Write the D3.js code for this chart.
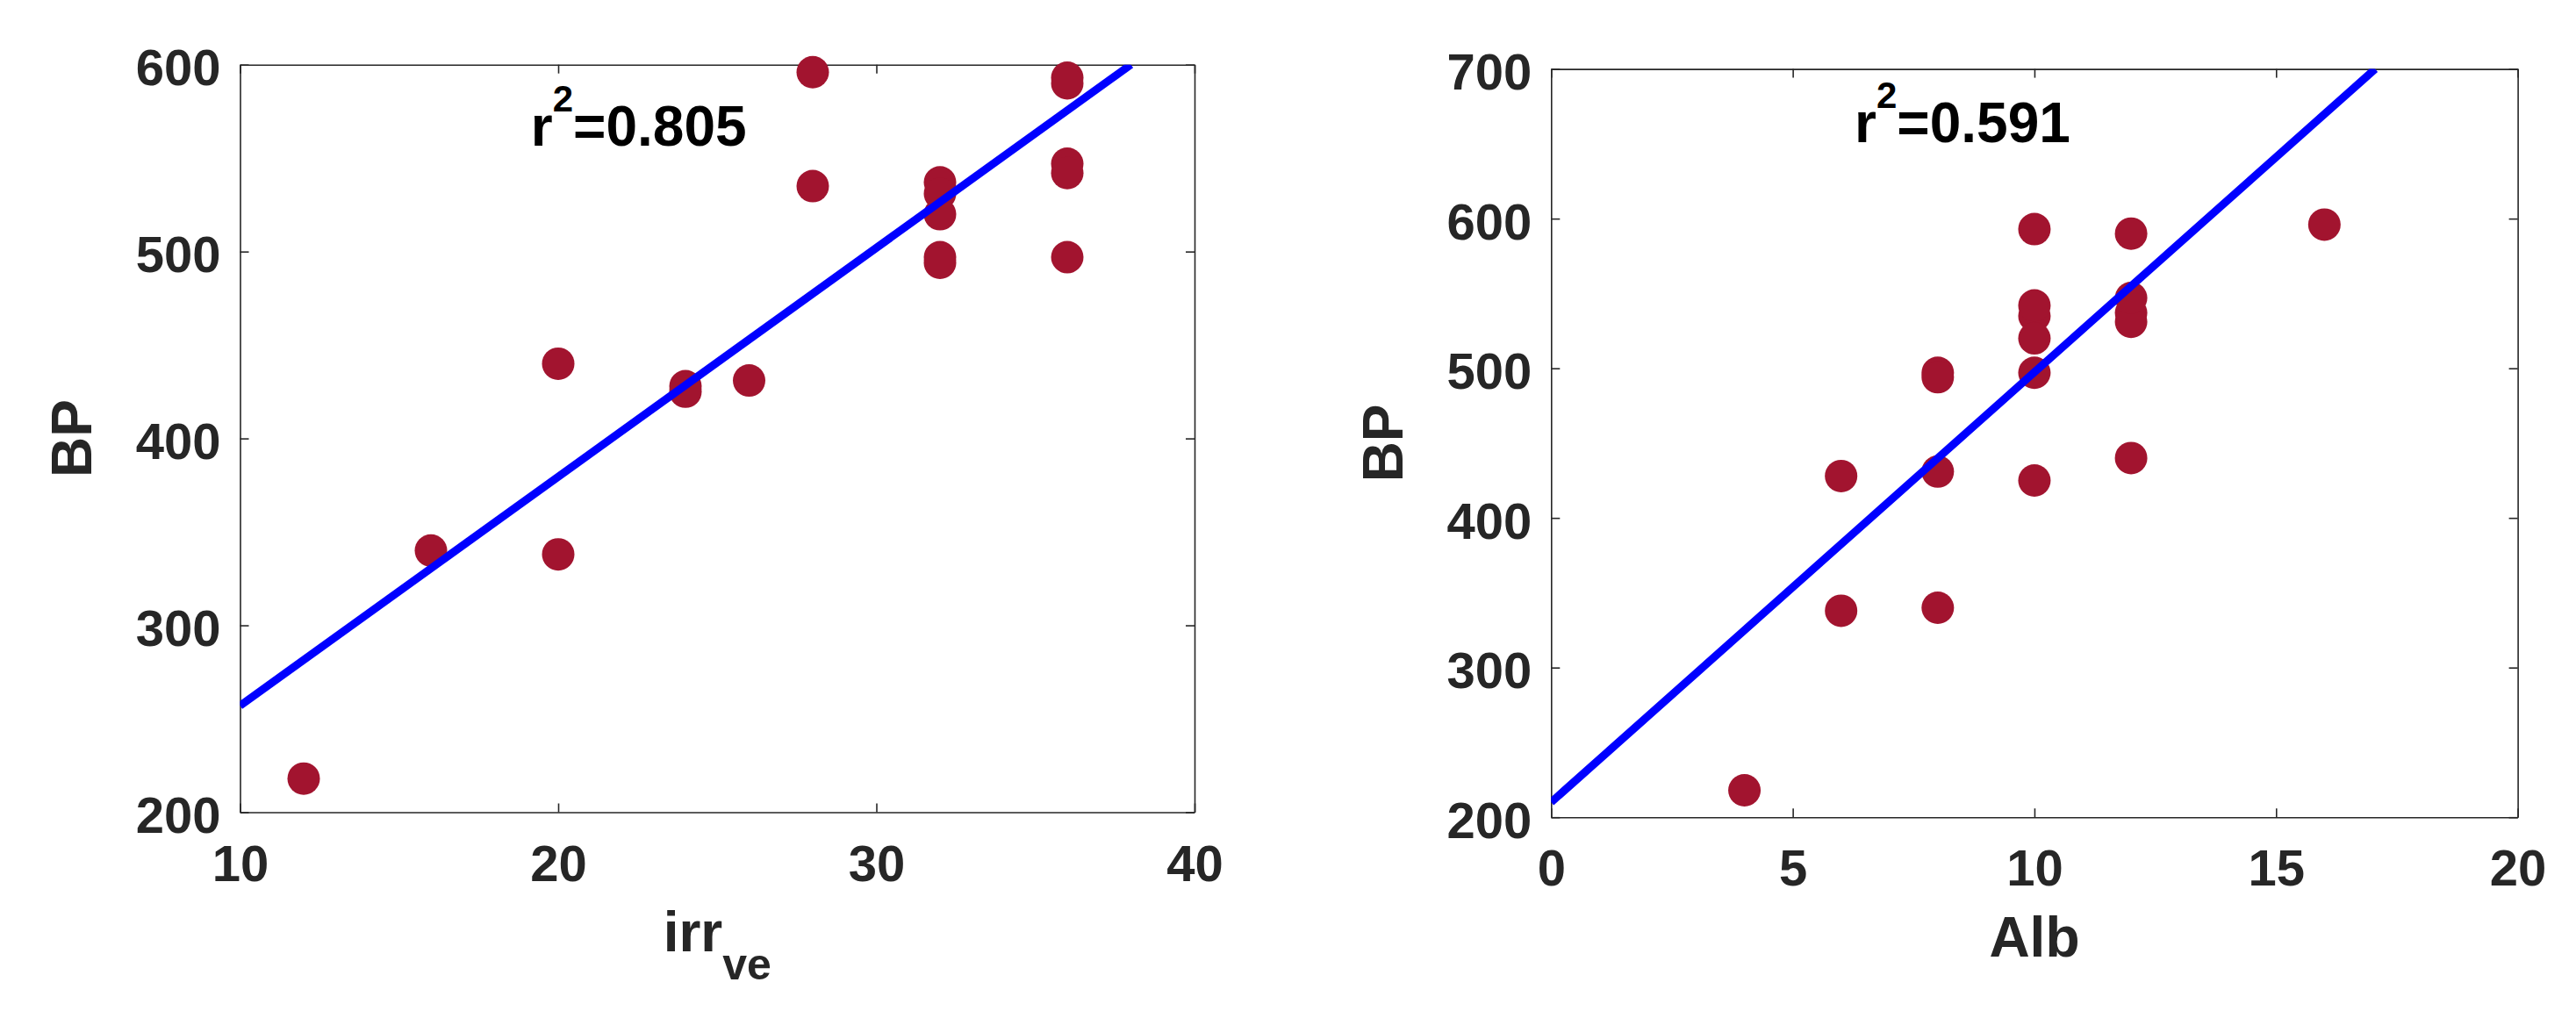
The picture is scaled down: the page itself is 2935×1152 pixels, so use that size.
<!DOCTYPE html>
<html>
<head>
<meta charset="utf-8">
<script src="https://cdn.jsdelivr.net/npm/d3@7"></script>
<style>
    html, body { margin: 0; padding: 0; background: #fff; }
    svg { display: block; }
</style>
</head>
<body>
<div id="chart"></div>
<script>
// shared y values (BP), one per sample
var bp = [218, 340, 338, 440, 428, 425, 431, 596, 535, 537, 531, 520, 497, 494, 593, 590, 547, 542, 497];
var irrVe = [12, 16, 20, 20, 24, 24, 26, 28, 28, 32, 32, 32, 32, 32, 36, 36, 36, 36, 36];
var alb = [4, 8, 6, 12, 6, 10, 8, 16, 10, 12, 12, 10, 8, 8, 10, 12, 12, 10, 10];

// fitted lines, end points
var irrFitX = [10, 38],
    irrFitY = [257, 600];
var albFitX = [0, 17.05],
    albFitY = [210, 700];

var irrTicks = [10, 20, 30, 40],
    bpTicksLeft = [200, 300, 400, 500, 600];
var albTicks = [0, 5, 10, 15, 20],
    bpTicksRight = [200, 300, 400, 500, 600, 700];

var r2Left = "0.805",
    r2Right = "0.591";

var width = 2935,
    height = 1152;

var fontFam = "'Liberation Sans', Arial, Helvetica, sans-serif",
    axisColor = "#262626",
    dotColor = "#A2142F",
    lineColor = "#0000FF";

var svg = d3.select("#chart").append("svg")
    .attr("width", width)
    .attr("height", height)
    .style("background", "#fff");

makePanel({
    id: "p1",
    x0: 273.5, y0: 73.7, x1: 1361, y1: 925.5,
    xDomain: [10, 40], yDomain: [200, 600],
    xTicks: irrTicks, yTicks: bpTicksLeft,
    xs: irrVe, ys: bp,
    fitX: irrFitX, fitY: irrFitY,
    xLabel: "irr", xSub: "ve", yLabel: "BP",
    r2: r2Left, r2At: [19.14, 556.7]
});

makePanel({
    id: "p2",
    x0: 1767.3, y0: 78.6, x1: 2868.6, y1: 931.2,
    xDomain: [0, 20], yDomain: [200, 700],
    xTicks: albTicks, yTicks: bpTicksRight,
    xs: alb, ys: bp,
    fitX: albFitX, fitY: albFitY,
    xLabel: "Alb", xSub: null, yLabel: "BP",
    r2: r2Right, r2At: [6.28, 651.3]
});

function makePanel(c) {
    var x = d3.scaleLinear().domain(c.xDomain).range([c.x0, c.x1]);
    var y = d3.scaleLinear().domain(c.yDomain).range([c.y1, c.y0]);

    var g = svg.append("g").attr("class", "panel");

    g.append("clipPath").attr("id", "clip-" + c.id)
        .append("rect")
        .attr("x", c.x0).attr("y", c.y0)
        .attr("width", c.x1 - c.x0).attr("height", c.y1 - c.y0);

    // box with inward ticks on all four sides
    var bottom = g.append("g")
        .attr("transform", "translate(0," + c.y1 + ")")
        .call(d3.axisBottom(x).tickValues(c.xTicks).tickSizeInner(-10).tickSizeOuter(0).tickPadding(37));
    var left = g.append("g")
        .attr("transform", "translate(" + c.x0 + ",0)")
        .call(d3.axisLeft(y).tickValues(c.yTicks).tickSizeInner(-10).tickSizeOuter(0).tickPadding(22));
    var top = g.append("g")
        .attr("transform", "translate(0," + c.y0 + ")")
        .call(d3.axisTop(x).tickValues(c.xTicks).tickSizeInner(-10).tickSizeOuter(0).tickFormat(""));
    var right = g.append("g")
        .attr("transform", "translate(" + c.x1 + ",0)")
        .call(d3.axisRight(y).tickValues(c.yTicks).tickSizeInner(-10).tickSizeOuter(0).tickFormat(""));

    [bottom, left, top, right].forEach(function (a) {
        a.selectAll("path, line").attr("stroke", axisColor).attr("stroke-width", 1.6);
        a.selectAll("text")
            .attr("fill", axisColor)
            .attr("font-family", fontFam)
            .attr("font-weight", "bold")
            .attr("font-size", 58);
    });
    left.selectAll("text").attr("dy", "0.395em");

    // scatter
    g.append("g")
        .selectAll("circle")
        .data(c.xs.map(function (d, i) { return [d, c.ys[i]]; }))
        .enter().append("circle")
        .attr("cx", function (d) { return x(d[0]); })
        .attr("cy", function (d) { return y(d[1]); })
        .attr("r", 18.5)
        .attr("fill", dotColor);

    // fit line
    var line = d3.line()
        .x(function (d) { return x(d[0]); })
        .y(function (d) { return y(d[1]); });
    g.append("path")
        .datum(c.fitX.map(function (d, i) { return [d, c.fitY[i]]; }))
        .attr("clip-path", "url(#clip-" + c.id + ")")
        .attr("d", line)
        .attr("fill", "none")
        .attr("stroke", lineColor)
        .attr("stroke-width", 9);

    // r^2 note
    var r2 = g.append("text")
        .attr("x", x(c.r2At[0]))
        .attr("y", y(c.r2At[1]))
        .attr("font-family", fontFam)
        .attr("font-weight", "bold")
        .attr("font-size", 64)
        .attr("fill", "#000");
    r2.append("tspan").text("r");
    r2.append("tspan").attr("font-size", 42).attr("dy", -39).text("2");
    r2.append("tspan").attr("dy", 39).text("=" + c.r2);

    // axis titles
    var xt = g.append("text")
        .attr("x", (c.x0 + c.x1) / 2)
        .attr("y", c.y1 + 158.5)
        .attr("text-anchor", "middle")
        .attr("font-family", fontFam)
        .attr("font-weight", "bold")
        .attr("font-size", 64)
        .attr("fill", axisColor);
    xt.append("tspan").text(c.xLabel);
    if (c.xSub) {
        xt.append("tspan").attr("font-size", 50).attr("dy", 32).text(c.xSub);
    }

    g.append("text")
        .attr("transform", "translate(" + (c.x0 - 169.5) + "," + ((c.y0 + c.y1) / 2) + ") rotate(-90)")
        .attr("text-anchor", "middle")
        .attr("font-family", fontFam)
        .attr("font-weight", "bold")
        .attr("font-size", 64)
        .attr("fill", axisColor)
        .text(c.yLabel);
}
</script>
</body>
</html>
